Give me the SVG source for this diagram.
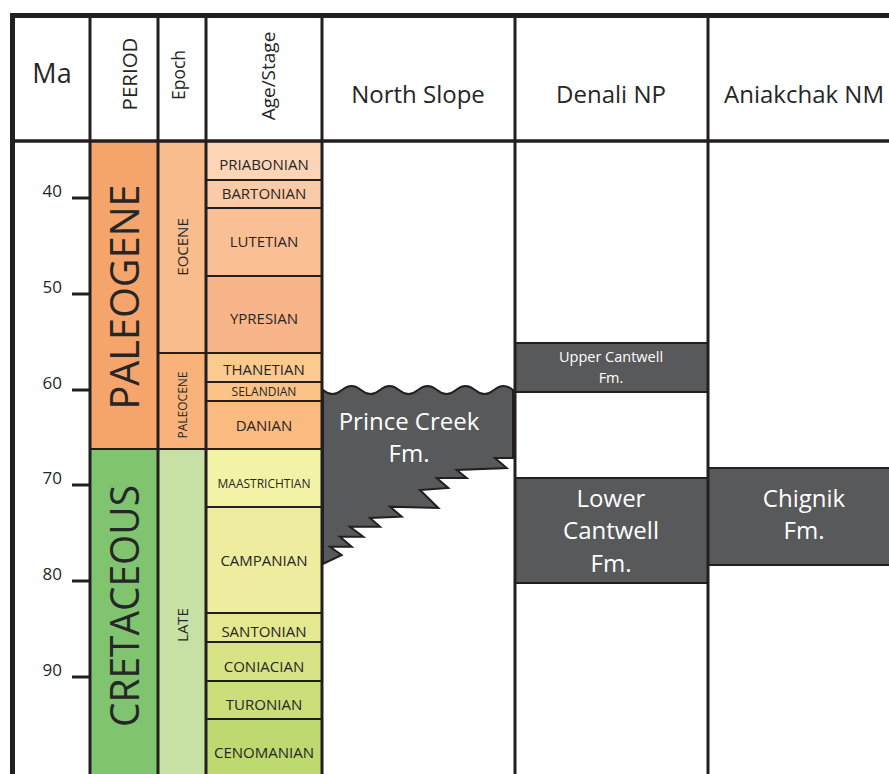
<svg xmlns="http://www.w3.org/2000/svg" width="889" height="774" viewBox="0 0 889 774">
<style>
text{font-family:"Open Sans","Liberation Sans",sans-serif;fill:#262626}
.hdr{font-size:24px;text-anchor:middle}
.stg{font-size:15px;text-anchor:middle}
.sm{font-size:12px}
.cell{stroke:#231f20;stroke-width:2}
.fm{fill:#58595b;stroke:#231f20;stroke-width:2;stroke-linejoin:miter}
.fmt{fill:#fff;font-size:24px;text-anchor:middle}
.grid{stroke:#231f20;stroke-width:3;fill:none}
.frame{stroke:#231f20;stroke-width:5;fill:none}
.tick{stroke:#231f20;stroke-width:3}
.ma{font-size:17px;text-anchor:end}
.rot{text-anchor:middle}
</style>
<rect width="889" height="774" fill="#fff"/>

<g id="periods">
<g id="paleogene"><rect class="cell" x="90" y="141" width="68" height="308" fill="#F5A56C"/><text class="rot" transform="translate(139,297) rotate(-90)" font-size="40" textLength="225" lengthAdjust="spacingAndGlyphs">PALEOGENE</text></g>
<g id="cretaceous"><rect class="cell" x="90" y="449" width="68" height="330" fill="#80C46F"/><text class="rot" transform="translate(139,606) rotate(-90)" font-size="40" textLength="242" lengthAdjust="spacingAndGlyphs">CRETACEOUS</text></g>
</g>

<g id="epochs">
<g id="eocene"><rect class="cell" x="158" y="141" width="48" height="212" fill="#F9BD8D"/><text class="rot" transform="translate(188,247) rotate(-90)" font-size="15">EOCENE</text></g>
<g id="paleocene"><rect class="cell" x="158" y="353" width="48" height="96" fill="#F8B27A"/><text class="rot" transform="translate(187,405) rotate(-90)" font-size="12">PALEOCENE</text></g>
<g id="late"><rect class="cell" x="158" y="449" width="48" height="330" fill="#C6E1A3"/><text class="rot" transform="translate(188,625) rotate(-90)" font-size="15">LATE</text></g>
</g>

<g id="stages">
<g id="priabonian"><rect class="cell" x="206" y="141" width="116" height="39" fill="#FCD5B7"/><text class="stg" x="264" y="170">PRIABONIAN</text></g>
<g id="bartonian"><rect class="cell" x="206" y="180" width="116" height="28" fill="#FBCAA6"/><text class="stg" x="264" y="199">BARTONIAN</text></g>
<g id="lutetian"><rect class="cell" x="206" y="208" width="116" height="68" fill="#FABF95"/><text class="stg" x="264" y="247">LUTETIAN</text></g>
<g id="ypresian"><rect class="cell" x="206" y="276" width="116" height="77" fill="#F9B58A"/><text class="stg" x="264" y="324">YPRESIAN</text></g>
<g id="thanetian"><rect class="cell" x="206" y="353" width="116" height="29" fill="#FCCA8E"/><text class="stg" x="264" y="375">THANETIAN</text></g>
<g id="selandian"><rect class="cell" x="206" y="382" width="116" height="19" fill="#FBC386"/><text class="stg sm" x="264" y="396">SELANDIAN</text></g>
<g id="danian"><rect class="cell" x="206" y="401" width="116" height="48" fill="#FBBA7F"/><text class="stg" x="264" y="431">DANIAN</text></g>
<g id="maastrichtian"><rect class="cell" x="206" y="449" width="116" height="58" fill="#F3F3A8"/><text class="stg sm" x="264" y="488">MAASTRICHTIAN</text></g>
<g id="campanian"><rect class="cell" x="206" y="507" width="116" height="106" fill="#EEEC9F"/><text class="stg" x="264" y="566">CAMPANIAN</text></g>
<g id="santonian"><rect class="cell" x="206" y="613" width="116" height="29" fill="#E3E891"/><text class="stg" x="264" y="637">SANTONIAN</text></g>
<g id="coniacian"><rect class="cell" x="206" y="642" width="116" height="39" fill="#D7E385"/><text class="stg" x="264" y="672">CONIACIAN</text></g>
<g id="turonian"><rect class="cell" x="206" y="681" width="116" height="38" fill="#CADE79"/><text class="stg" x="264" y="710">TURONIAN</text></g>
<g id="cenomanian"><rect class="cell" x="206" y="719" width="116" height="60" fill="#BED96F"/><text class="stg" x="264" y="758">CENOMANIAN</text></g>
</g>

<g id="formations">
<g id="prince-creek">
<path class="fm" d="M323,390 Q332.5,398 342,390 T361,390 T380,390 T399,390 T418,390 T437,390 T456,390 T475,390 T494,390 T513,390 L513,458 L495,458 L506.7,468 L456.7,470 L466.7,478 L436.7,478 L448.3,488 L420,490 L438.3,508 L390,506.7 L401.7,516.7 L370,518 L380,526.7 L350,526.7 L363.3,536.7 L340,536.7 L351.7,546.7 L330,546.7 L341.7,555 L323,564 Z"/>
<text class="fmt" x="409" y="430">Prince Creek</text>
<text class="fmt" x="409" y="462">Fm.</text>
</g>
<g id="upper-cantwell">
<rect class="fm" x="515" y="343" width="193" height="49"/>
<text class="fmt" x="611" y="362" style="font-size:14.5px">Upper Cantwell</text>
<text class="fmt" x="611" y="383" style="font-size:14.5px">Fm.</text>
</g>
<g id="lower-cantwell">
<rect class="fm" x="515" y="478" width="193" height="105"/>
<text class="fmt" x="611" y="507">Lower</text>
<text class="fmt" x="611" y="539">Cantwell</text>
<text class="fmt" x="611" y="572">Fm.</text>
</g>
<g id="chignik">
<rect class="fm" x="708" y="468" width="190" height="97"/>
<text class="fmt" x="804" y="507">Chignik</text>
<text class="fmt" x="804" y="539">Fm.</text>
</g>
</g>

<g id="grid">
<line class="grid" x1="90" y1="15" x2="90" y2="774"/>
<line class="grid" x1="158" y1="15" x2="158" y2="774"/>
<line class="grid" x1="206" y1="15" x2="206" y2="774"/>
<line class="grid" x1="322" y1="15" x2="322" y2="774"/>
<line class="grid" x1="515" y1="15" x2="515" y2="774"/>
<line class="grid" x1="708" y1="15" x2="708" y2="774"/>
<line class="grid" x1="12" y1="141" x2="889" y2="141" style="stroke-width:3.5"/>
<line class="frame" x1="12.5" y1="13" x2="12.5" y2="774"/>
<line class="frame" x1="10" y1="15.5" x2="889" y2="15.5"/>
</g>

<g id="header">
<text class="hdr" x="52" y="83" style="font-size:27px">Ma</text>
<text class="rot" transform="translate(137,74) rotate(-90)" font-size="20.5">PERIOD</text>
<text class="rot" transform="translate(185,75) rotate(-90)" font-size="17.5">Epoch</text>
<text class="rot" transform="translate(275,76) rotate(-90)" font-size="19">Age/Stage</text>
<text class="hdr" x="418" y="103">North Slope</text>
<text class="hdr" x="611" y="103">Denali NP</text>
<text class="hdr" x="804" y="103">Aniakchak NM</text>
</g>

<g id="ma-scale">
<line class="tick" x1="72" y1="198" x2="90" y2="198"/><text class="ma" x="62" y="197">40</text>
<line class="tick" x1="72" y1="294" x2="90" y2="294"/><text class="ma" x="62" y="293">50</text>
<line class="tick" x1="72" y1="390" x2="90" y2="390"/><text class="ma" x="62" y="389">60</text>
<line class="tick" x1="72" y1="485" x2="90" y2="485"/><text class="ma" x="62" y="484">70</text>
<line class="tick" x1="72" y1="581" x2="90" y2="581"/><text class="ma" x="62" y="580">80</text>
<line class="tick" x1="72" y1="677" x2="90" y2="677"/><text class="ma" x="62" y="676">90</text>
</g>
</svg>
